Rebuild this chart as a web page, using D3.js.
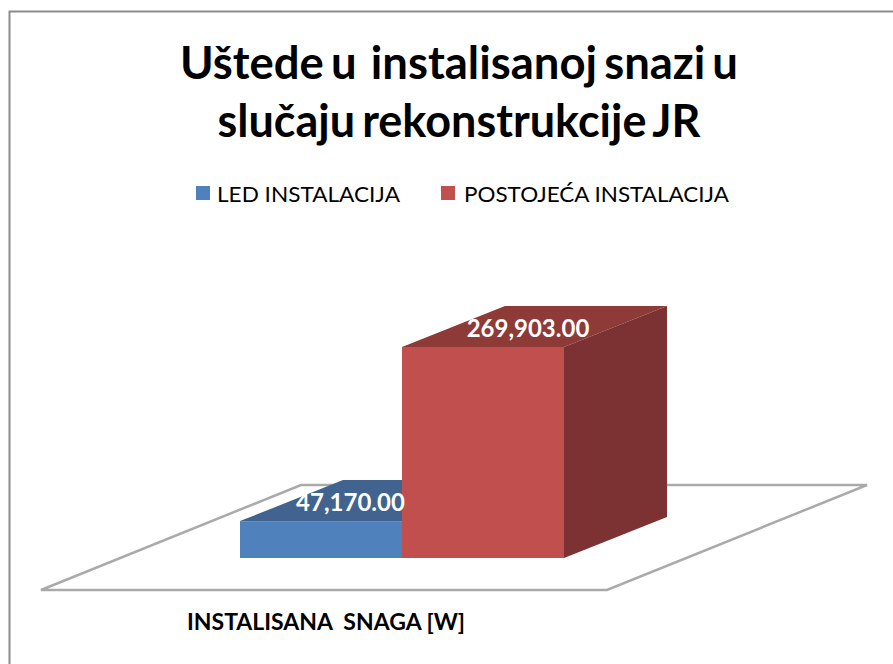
<!DOCTYPE html>
<html>
<head>
<meta charset="utf-8">
<script src="https://cdn.jsdelivr.net/npm/d3@7"></script>
<style>
    html, body { margin: 0; padding: 0; background: #fff; }
    svg { display: block; }
    text { font-family: Lato, "Open Sans", sans-serif; }
</style>
</head>
<body>
<div id="chart"></div>
<script>
var seriesNames = ["LED INSTALACIJA", "POSTOJEĆA INSTALACIJA"];
var seriesValues = [47170, 269903];
var seriesLabels = ["47,170.00", "269,903.00"];
var seriesFront = ["#4f81bd", "#c0504d"];
var seriesTop = ["#3f648f", "#8e3a38"];
var seriesSide = ["#335272", "#7c3130"];
var categoryName = "INSTALISANA  SNAGA [W]";
var titleLines = ["Uštede u  instalisanoj snazi u", "slučaju rekonstrukcije JR"];

var width = 893, height = 664;
var depthX = 103, depthY = 41;

var svg = d3.select("#chart").append("svg")
    .attr("width", width)
    .attr("height", height);

var defs = svg.append("defs");
defs.append("filter")
    .attr("id", "soft")
    .append("feGaussianBlur")
    .attr("stdDeviation", 0.5);

// chart frame, runs off the right and bottom of the picture
svg.append("path")
    .attr("d", "M9.5," + height + "V11.5H" + width)
    .attr("fill", "none")
    .attr("stroke", "#8c8c8c")
    .attr("stroke-width", 2);

// title
var titleWidths = [558, 483];

svg.append("g")
    .selectAll("text")
    .data(titleLines)
    .enter().append("text")
    .attr("x", 459)
    .attr("y", function(d, i) { return 79 + i * 58; })
    .attr("text-anchor", "middle")
    .attr("font-size", 46)
    .attr("font-weight", 700)
    .attr("word-spacing", -4)
    .attr("textLength", function(d, i) { return titleWidths[i]; })
    .attr("lengthAdjust", "spacingAndGlyphs")
    .attr("fill", "#000")
    .style("white-space", "pre")
    .text(function(d) { return d; });

// legend
var legendX = [196, 441];
var legendTextX = [217, 464];
var legendTextW = [183, 265];
var legend = svg.append("g");

legend.selectAll("rect")
    .data(seriesNames)
    .enter().append("rect")
    .attr("x", function(d, i) { return legendX[i]; })
    .attr("y", 186)
    .attr("width", 14)
    .attr("height", 14)
    .attr("fill", function(d, i) { return seriesFront[i]; });

legend.selectAll("text")
    .data(seriesNames)
    .enter().append("text")
    .attr("x", function(d, i) { return legendTextX[i]; })
    .attr("y", 202)
    .attr("font-size", 22)
    .attr("textLength", function(d, i) { return legendTextW[i]; })
    .attr("lengthAdjust", "spacingAndGlyphs")
    .attr("fill", "#000")
    .text(function(d) { return d; });

// floor
var xScale = d3.scaleBand()
    .domain(seriesNames)
    .range([240, 564]);

var yScale = d3.scaleLinear()
    .domain([0, d3.max(seriesValues)])
    .range([558, 347]);

var floorPoints = [[41, 590], [301, 485], [867, 485], [607, 590]];

svg.append("polygon")
    .attr("points", floorPoints.join(" "))
    .attr("fill", "#fff")
    .attr("stroke", "#aaaaaa")
    .attr("stroke-width", 2.5)
    .attr("filter", "url(#soft)");

// bars, short one first so the tall one sits over it
var bars = svg.append("g")
    .attr("filter", "url(#soft)")
    .selectAll("g")
    .data(seriesValues)
    .enter().append("g");

bars.append("path")
    .attr("fill", function(d, i) { return seriesTop[i]; })
    .attr("d", function(d, i) {
        var x0 = xScale(seriesNames[i]), x1 = x0 + xScale.bandwidth(), y = yScale(d);
        return "M" + x0 + "," + y + "L" + (x0 + depthX) + "," + (y - depthY)
            + "H" + (x1 + depthX) + "L" + x1 + "," + y + "Z";
    });

bars.append("path")
    .attr("fill", function(d, i) { return seriesSide[i]; })
    .attr("d", function(d, i) {
        var x1 = xScale(seriesNames[i]) + xScale.bandwidth();
        return "M" + x1 + "," + yScale(d) + "L" + (x1 + depthX) + "," + (yScale(d) - depthY)
            + "V" + (yScale(0) - depthY) + "L" + x1 + "," + yScale(0) + "Z";
    });

bars.append("rect")
    .attr("x", function(d, i) { return xScale(seriesNames[i]); })
    .attr("y", function(d) { return yScale(d); })
    .attr("width", xScale.bandwidth())
    .attr("height", function(d) { return yScale(0) - yScale(d); })
    .attr("fill", function(d, i) { return seriesFront[i]; });

// data labels, pushed by hand like in the original
var labelShift = [29.5, 45];

svg.append("g")
    .selectAll("text")
    .data(seriesLabels)
    .enter().append("text")
    .attr("x", function(d, i) { return xScale(seriesNames[i]) + xScale.bandwidth() / 2 + labelShift[i]; })
    .attr("y", function(d, i) { return yScale(seriesValues[i]) - 10.5; })
    .attr("text-anchor", "middle")
    .attr("font-size", 24)
    .attr("font-weight", 700)
    .attr("fill", "#fff")
    .text(function(d) { return d; });

// category label
svg.append("text")
    .attr("x", 187)
    .attr("y", 630)
    .attr("font-size", 22)
    .attr("font-weight", 700)
    .attr("textLength", 278)
    .attr("lengthAdjust", "spacingAndGlyphs")
    .attr("fill", "#000")
    .style("white-space", "pre")
    .text(categoryName);
</script>
</body>
</html>
